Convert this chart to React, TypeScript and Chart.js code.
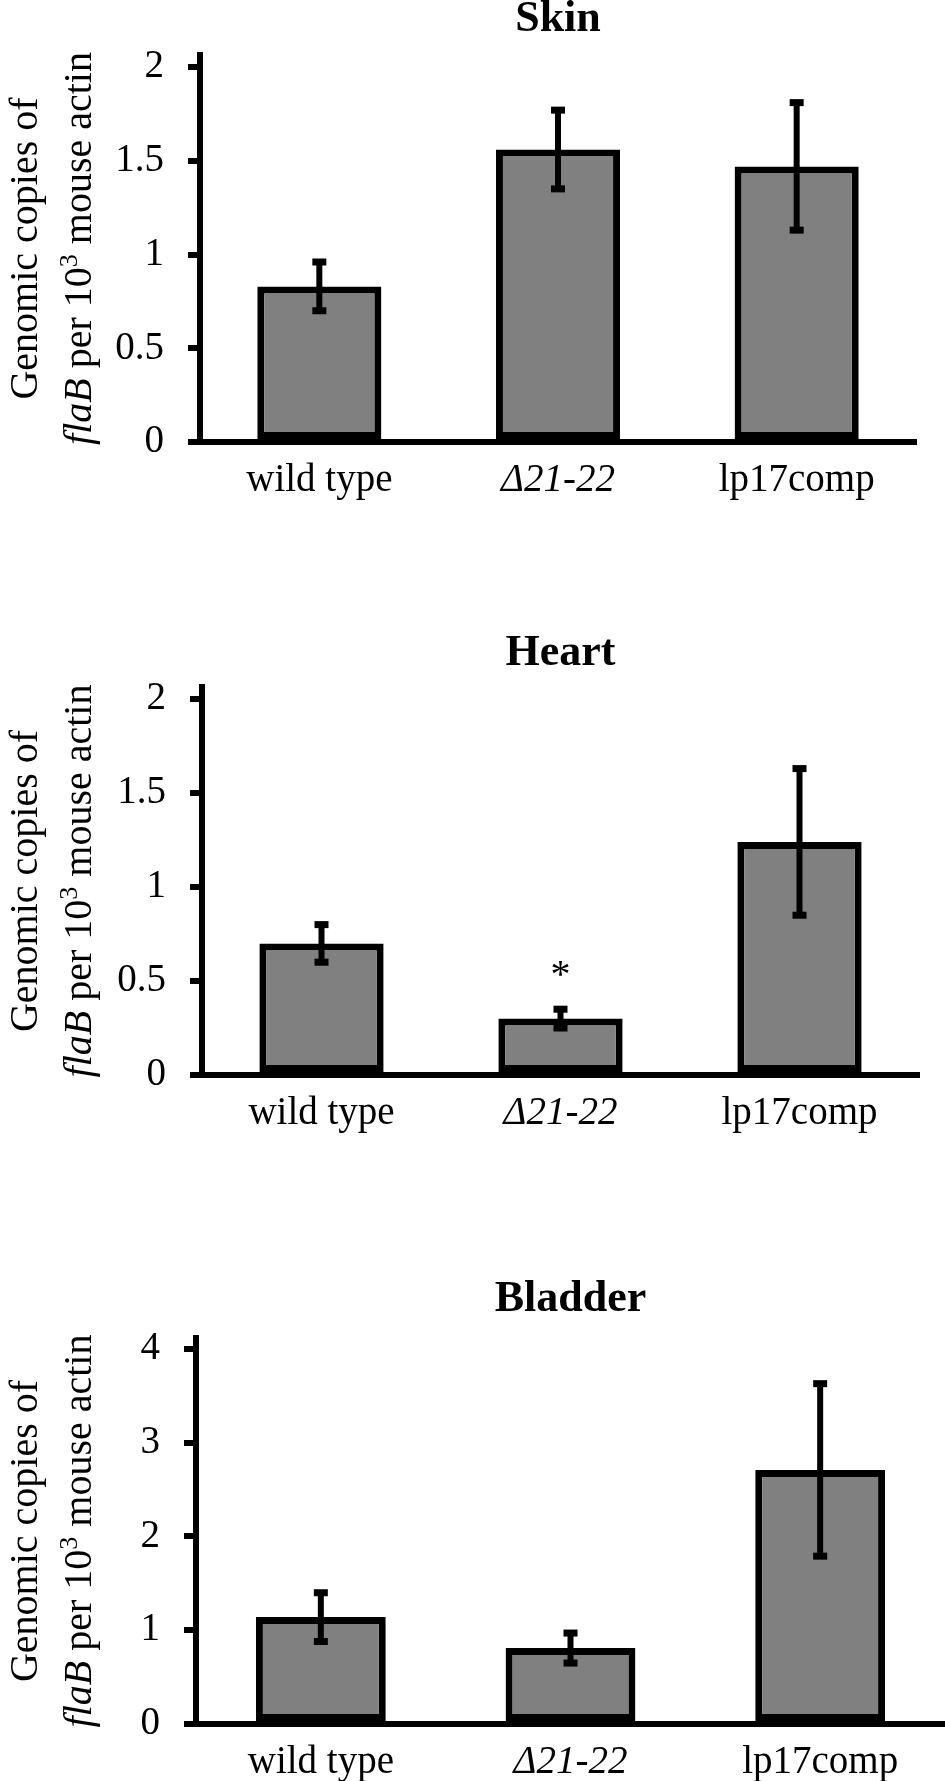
import React, { useRef, useEffect } from 'react';
import { Chart, registerables } from 'chart.js';

Chart.register(...registerables);

const categories = ['wild type', 'Δ21-22', 'lp17comp'];
const italicCategories = [false, true, false];

const skinValues = [0.83, 1.56, 1.47];
const skinErrors = [0.13, 0.21, 0.34];
const heartValues = [0.7, 0.3, 1.24];
const heartErrors = [0.1, 0.05, 0.39];
const bladderValues = [1.14, 0.81, 2.71];
const bladderErrors = [0.26, 0.16, 0.92];

const skinTicks = [0, 0.5, 1, 1.5, 2];
const heartTicks = [0, 0.5, 1, 1.5, 2];
const bladderTicks = [0, 1, 2, 3, 4];

// bars marked with * (significant)
const heartSignificant = [1];

const SERIF = '"Liberation Serif", "Times New Roman", serif';

interface Layout {
  height: number;
  padTop: number;
  padBottom: number;
  padRight: number;
  yWidth: number;
  xHeight: number;
  titleGap: number;
}

// draws title, y title, error bars and significance marks
const overlayPlugin = {
  id: 'panelOverlay',
  afterDatasetsDraw(chart: any, _args: any, opts: any) {
    const { ctx, chartArea } = chart;
    const x = chart.scales.x;
    const y = chart.scales.y;
    const values: number[] = chart.data.datasets[0].data;

    ctx.save();
    ctx.fillStyle = '#000';
    ctx.strokeStyle = '#000';

    // error bars
    opts.errors.forEach((e: number, i: number) => {
      const cx = x.getPixelForValue(i);
      const yHi = y.getPixelForValue(values[i] + e);
      const yLo = y.getPixelForValue(values[i] - e);
      ctx.lineWidth = 6;
      ctx.beginPath();
      ctx.moveTo(cx, yHi);
      ctx.lineTo(cx, yLo);
      ctx.stroke();
      ctx.fillRect(cx - 7, yHi - 3.5, 14, 7);
      ctx.fillRect(cx - 7, yLo - 3.5, 14, 7);
    });

    // asterisks
    ctx.font = `40px ${SERIF}`;
    ctx.textAlign = 'center';
    ctx.textBaseline = 'alphabetic';
    (opts.significant || []).forEach((i: number) => {
      const cx = x.getPixelForValue(i);
      const yHi = y.getPixelForValue(values[i] + opts.errors[i]);
      ctx.fillText('*', cx, yHi - 22);
    });

    // title
    ctx.font = `bold 44px ${SERIF}`;
    ctx.fillText(opts.title, (chartArea.left + chartArea.right) / 2, chartArea.top - opts.titleGap);

    // rotated y title, centred on the plot area
    ctx.translate(0, (chartArea.top + chartArea.bottom) / 2);
    ctx.rotate(-Math.PI / 2);
    ctx.textAlign = 'center';
    ctx.font = `40px ${SERIF}`;
    ctx.fillText('Genomic copies of', 0, 37);

    const parts = [
      { text: 'flaB', font: `italic 40px ${SERIF}`, rise: 0 },
      { text: ' per 10', font: `40px ${SERIF}`, rise: 0 },
      { text: '3', font: `26px ${SERIF}`, rise: 14 },
      { text: ' mouse actin', font: `40px ${SERIF}`, rise: 0 },
    ];
    let total = 0;
    parts.forEach((p) => {
      ctx.font = p.font;
      total += ctx.measureText(p.text).width;
    });
    ctx.textAlign = 'left';
    let pos = -total / 2;
    parts.forEach((p) => {
      ctx.font = p.font;
      ctx.fillText(p.text, pos, 91 - p.rise);
      pos += ctx.measureText(p.text).width;
    });
    ctx.restore();
  },
};

interface PanelProps {
  title: string;
  values: number[];
  errors: number[];
  ticks: number[];
  yMax: number;
  significant?: number[];
  layout: Layout;
}

const BarPanel: React.FC<PanelProps> = ({ title, values, errors, ticks, yMax, significant, layout }) => {
  const chartRef = useRef<HTMLCanvasElement>(null);
  const chartInstance = useRef<Chart | null>(null);

  useEffect(() => {
    if (!chartRef.current) return;
    const ctx = chartRef.current.getContext('2d');
    if (!ctx) return;

    if (chartInstance.current) {
      chartInstance.current.destroy();
    }

    chartInstance.current = new Chart(ctx, {
      type: 'bar',
      data: {
        labels: categories,
        datasets: [
          {
            data: values,
            backgroundColor: '#808080',
            borderColor: '#000000',
            borderWidth: 7,
            borderSkipped: false,
            categoryPercentage: 1,
            barPercentage: 0.52,
          },
        ],
      },
      plugins: [overlayPlugin],
      options: {
        animation: false,
        responsive: true,
        maintainAspectRatio: false,
        layout: {
          padding: { top: layout.padTop, bottom: layout.padBottom, left: 0, right: layout.padRight },
        },
        plugins: {
          legend: { display: false },
          title: { display: false },
          tooltip: { enabled: false },
          panelOverlay: { errors, significant, title, titleGap: layout.titleGap },
        } as any,
        scales: {
          x: {
            grid: { display: false, drawTicks: false },
            border: { display: true, color: '#000', width: 6 },
            ticks: {
              color: '#000',
              padding: 15,
              font: (c: any) => ({
                family: SERIF,
                size: 39,
                style: italicCategories[c.index] ? 'italic' : 'normal',
              }),
            },
            afterFit: (axis: any) => {
              axis.height = layout.xHeight;
            },
          },
          y: {
            min: 0,
            max: yMax,
            afterBuildTicks: (axis: any) => {
              axis.ticks = ticks.map((v) => ({ value: v }));
            },
            grid: {
              display: true,
              drawOnChartArea: false,
              drawTicks: true,
              tickLength: 12,
              lineWidth: 6,
              color: '#000',
            },
            border: { display: true, color: '#000', width: 6 },
            ticks: {
              color: '#000',
              padding: 24,
              font: { family: SERIF, size: 39 },
              callback: (value: any) => String(value),
            },
            afterFit: (axis: any) => {
              axis.width = layout.yWidth;
            },
          },
        },
      },
    });

    return () => {
      if (chartInstance.current) {
        chartInstance.current.destroy();
        chartInstance.current = null;
      }
    };
  }, [title, values, errors, ticks, yMax, significant, layout]);

  return (
    <div style={{ position: 'relative', width: 945, height: layout.height }}>
      <canvas ref={chartRef} />
    </div>
  );
};

const skinLayout: Layout = { height: 560, padTop: 55, padBottom: 58, padRight: 29, yWidth: 200, xHeight: 60, titleGap: 24 };
const heartLayout: Layout = { height: 630, padTop: 127, padBottom: 55, padRight: 26, yWidth: 202, xHeight: 60, titleGap: 22 };
const bladderLayout: Layout = { height: 591, padTop: 148, padBottom: 0, padRight: 0, yWidth: 196, xHeight: 57, titleGap: 27 };

const App: React.FC = () => {
  return (
    <div
      style={{
        position: 'absolute',
        left: 0,
        top: 0,
        width: 945,
        height: 1781,
        overflow: 'hidden',
        background: '#fff',
      }}
    >
      <BarPanel title="Skin" values={skinValues} errors={skinErrors} ticks={skinTicks} yMax={2.064} layout={skinLayout} />
      <BarPanel
        title="Heart"
        values={heartValues}
        errors={heartErrors}
        ticks={heartTicks}
        yMax={2.064}
        significant={heartSignificant}
        layout={heartLayout}
      />
      <BarPanel title="Bladder" values={bladderValues} errors={bladderErrors} ticks={bladderTicks} yMax={4.117} layout={bladderLayout} />
    </div>
  );
};

export default App;
